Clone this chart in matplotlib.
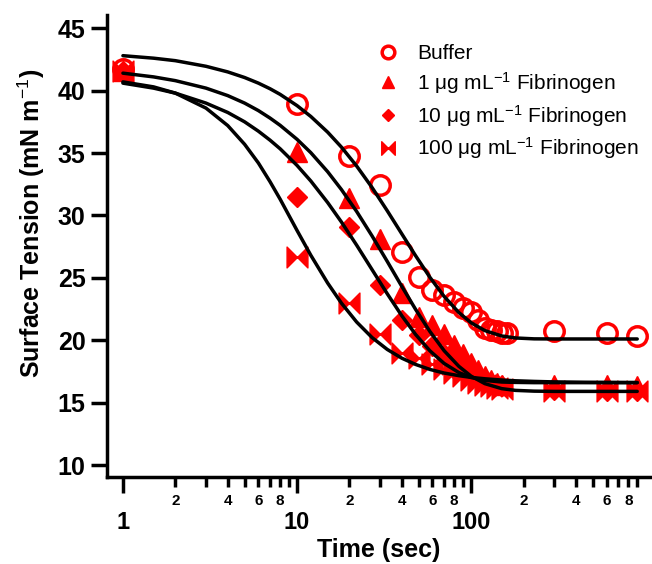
import matplotlib
matplotlib.use('Agg')
import matplotlib.pyplot as plt
from matplotlib.path import Path

plt.rcParams['font.family'] = ['Liberation Sans', 'DejaVu Sans']
plt.rcParams['mathtext.fontset'] = 'custom'
plt.rcParams['mathtext.rm'] = 'Liberation Sans'
plt.rcParams['mathtext.it'] = 'Liberation Sans:italic'
plt.rcParams['mathtext.bf'] = 'Liberation Sans:bold'

# measured surface tension (mN/m) vs time (s)
time_buffer = [1, 10, 20, 30, 40, 50, 60, 70, 80, 90, 100, 110, 120, 130, 140, 150, 160, 300, 600, 900]
st_buffer = [41.7, 38.9, 34.8, 32.4, 27.1, 25.1, 24.0, 23.6, 23.1, 22.6, 22.3, 21.6, 21.0, 20.8, 20.7,
             20.6, 20.6, 20.7, 20.6, 20.3]

time_fib = [1, 10, 20, 30, 40, 50, 60, 70, 80, 90, 100, 110, 120, 130, 140, 150, 300, 600, 900]
st_fib1 = [41.6, 35.1, 31.4, 28.1, 23.8, 21.9, 21.2, 20.5, 19.6, 18.9, 18.2, 17.6, 17.1, 16.8, 16.6,
           16.4, 16.4, 16.4, 16.3]
st_fib10 = [41.6, 31.5, 29.1, 24.4, 21.6, 20.4, 19.5, 18.9, 18.3, 17.9, 17.5, 17.1, 16.8, 16.6, 16.4,
            16.3, 16.0, 15.9, 15.9]
st_fib100 = [41.6, 26.7, 23.0, 20.5, 19.0, 18.6, 18.1, 17.7, 17.4, 17.1, 16.8, 16.6, 16.4, 16.3, 16.2,
             16.1, 15.9, 15.9, 15.9]

# fitted curves
time_fit = [1, 1.5, 2, 3, 4, 5, 6, 7, 8, 10, 12, 15, 18, 22, 27, 33, 40, 48, 58, 70, 85, 100, 120,
            150, 180, 230, 300, 450, 900]
fit_buffer = [42.8, 42.6, 42.4, 41.95, 41.5, 41.05, 40.6, 40.15, 39.7, 38.8, 37.93, 36.67, 35.47,
              33.96, 32.23, 30.37, 28.52, 26.77, 25.04, 23.51, 22.22, 21.40, 20.77, 20.34, 20.18, 20.11,
              20.10, 20.10, 20.10]
fit_fib1 = [41.4, 41.1, 40.8, 40.2, 39.6, 39.0, 38.4, 37.8, 37.22, 36.10, 35.03, 33.50, 32.07,
            30.32, 28.35, 26.31, 24.31, 22.47, 20.70, 19.16, 17.91, 17.12, 16.52, 16.12, 15.98, 15.92,
            15.90, 15.90, 15.90]
fit_fib10 = [40.6, 40.2, 39.8, 39.0, 38.25, 37.5, 36.75, 36.03, 35.34, 34.01, 32.76, 31.03, 29.47,
             27.62, 25.65, 23.72, 21.96, 20.46, 19.15, 18.14, 17.41, 17.02, 16.78, 16.65, 16.62, 16.60,
             16.60, 16.60, 16.60]
fit_fib100 = [40.7, 40.3, 39.8, 38.6, 37.2, 35.7, 34.2, 32.7, 31.3, 28.8, 26.81, 24.58, 22.97,
              21.46, 20.21, 19.26, 18.56, 18.06, 17.66, 17.37, 17.16, 17.02, 16.91, 16.81, 16.75, 16.70,
              16.66, 16.63, 16.61]

labels = ['Buffer',
          '1 μg mL$^{-1}$ Fibrinogen',
          '10 μg mL$^{-1}$ Fibrinogen',
          '100 μg mL$^{-1}$ Fibrinogen']

# bow-tie marker
bowtie = Path([(-1, 1), (0, 0), (-1, -1), (-1, 1), (1, 1), (0, 0), (1, -1), (1, 1)],
              [Path.MOVETO, Path.LINETO, Path.LINETO, Path.CLOSEPOLY,
               Path.MOVETO, Path.LINETO, Path.LINETO, Path.CLOSEPOLY])

red = '#ff0000'

fig = plt.figure(figsize=(6.52, 5.64), dpi=100)
ax = fig.add_axes([107 / 652, (564 - 477) / 564, (651 - 107) / 652, (477 - 15) / 564])

h1, = ax.plot(time_buffer, st_buffer, 'o', ms=14, mfc='none', mec=red, mew=2.5, ls='none', zorder=2)
h2, = ax.plot(time_fib, st_fib1, '^', ms=14, color=red, mec=red, ls='none', zorder=2)
h3, = ax.plot(time_fib, st_fib10, 'D', ms=10, color=red, mec=red, ls='none', zorder=2)
h4, = ax.plot(time_fib, st_fib100, marker=bowtie, ms=15, color=red, mec=red, ls='none', zorder=2)

for fit in [fit_buffer, fit_fib1, fit_fib10, fit_fib100]:
    ax.plot(time_fit, fit, color='black', lw=2.5, zorder=3, solid_capstyle='round')

ax.set_xscale('log')
ax.set_xlim(0.81, 1080)
ax.set_ylim(9.04, 46.06)

ax.spines['top'].set_visible(False)
ax.spines['right'].set_visible(False)
ax.spines['left'].set_linewidth(2.5)
ax.spines['bottom'].set_linewidth(2.5)

ax.set_yticks([10, 15, 20, 25, 30, 35, 40, 45])
ax.set_xticks([1, 10, 100])
ax.set_xticklabels(['1', '10', '100'])
minor = []
minor_labels = []
for dec in [1, 10, 100]:
    for k in range(2, 10):
        minor.append(k * dec)
        minor_labels.append(str(k) if k % 2 == 0 else '')
ax.set_xticks(minor, minor=True)
ax.set_xticklabels(minor_labels, minor=True)

ax.tick_params(axis='x', which='major', direction='out', length=11.5, width=2.5, pad=13, labelsize=17)
ax.tick_params(axis='x', which='minor', direction='out', length=7, width=2.5, pad=5, labelsize=11)
ax.tick_params(axis='y', which='major', direction='out', length=11.5, width=2.5, pad=4, labelsize=18)
for lab in ax.get_xticklabels(which='both') + ax.get_yticklabels():
    lab.set_fontweight('bold')

ax.set_xlabel('Time (sec)', fontsize=18, fontweight='bold')
ax.xaxis.set_label_coords(0.5, -0.1315)
ax.set_ylabel('Surface Tension (mN m$^{-1}$)', fontsize=18, fontweight='bold')
ax.yaxis.set_label_coords(-0.11, 0.55)

ax.legend([h1, h2, h3, h4], labels, loc='upper left', bbox_to_anchor=(0.482, 0.955),
          frameon=False, fontsize=15, handlelength=1.0, handletextpad=0.9, labelspacing=0.33,
          markerscale=0.65, borderpad=0.4, borderaxespad=0)

fig.savefig('out.png', dpi=100)
